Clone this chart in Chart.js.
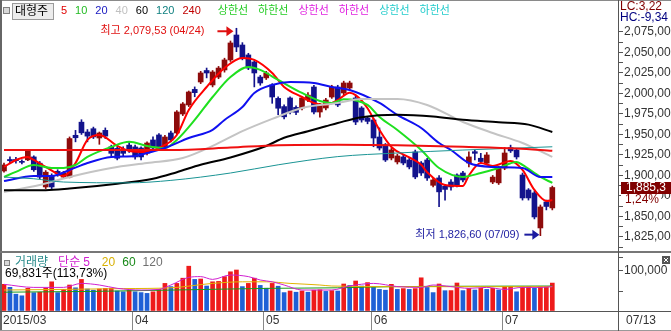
<!DOCTYPE html>
<html>
<head>
<meta charset="utf-8">
<script src="https://cdn.jsdelivr.net/npm/chart.js@4.4.1/dist/chart.umd.min.js"></script>
<style>
  html, body { margin: 0; padding: 0; background: #fff; }
  #wrap { position: relative; width: 671px; height: 331px; overflow: hidden; }
  #priceCv { position: absolute; left: 0; top: 0; }
  #volCv { position: absolute; left: 0; top: 252px; }
</style>
</head>
<body>
<div id="wrap">
  <canvas id="priceCv" width="671" height="252"></canvas>
  <canvas id="volCv" width="671" height="79"></canvas>
</div>
<script>
'use strict';

/* 1. DATOS */
const MONTH_STARTS = [0, 22, 44, 62, 84];
const MONTH_LABELS = ['2015/03', '04', '05', '06', '07'];
const LAST_DATE = '07/13';
const HIGH_DATE = '04/24';
const LOW_DATE  = '07/09';
const LC_TEXT = 'LC:3,22';
const HC_TEXT = 'HC:-9,34';

const OPEN = [
  1905.5, 1919.5, 1919.5, 1917, 1919, 1922.6, 1915, 1886, 1900, 1905,
  1898, 1898, 1949, 1965, 1953, 1957, 1945.7, 1955, 1935, 1933,
  1930, 1937, 1934.8, 1933.5, 1927.4, 1943.3, 1949.4, 1933.5, 1951.8, 1951.8,
  1975, 1986, 2005, 2014, 2028, 2010.4, 2020, 2028.7, 2040.9, 2071.3,
  2059.1, 2047, 2038.4, 2020, 2019, 2010.4, 1994, 1984, 1994.5, 1983,
  1982.3, 1992, 2007.9, 1977.4, 1982.3, 1995.7, 2007.9, 2000.6, 2006.7, 1994.5,
  1982.3, 1970, 1967.7, 1946.9, 1937.2, 1921.3, 1916.5, 1922.6, 1918.9, 1928.7,
  1915.2, 1918.9, 1888, 1897, 1887, 1892, 1900.6, 1903, 1915.2, 1929,
  1921, 1915, 1892, 1891, 1909, 1934, 1931, 1900.6, 1882.3, 1878.7,
  1836, 1867.7, 1860.4
];
const HIGH = [
  1915, 1922.6, 1922, 1919, 1931, 1924, 1917, 1906, 1902, 1907,
  1905, 1947, 1955, 1968, 1956, 1959, 1953, 1958, 1937, 1935,
  1935, 1940, 1937, 1935, 1941, 1947, 1951, 1949, 1954, 1979,
  1989, 2003, 2008, 2027, 2031, 2028, 2033, 2043, 2064, 2079.53,
  2062, 2049, 2040, 2022, 2027, 2012, 1996, 1986, 1996, 1985,
  1996, 2001, 2010, 1988, 1994, 2010, 2010, 2015, 2015, 1997,
  1984, 1972, 1970, 1958, 1939, 1933, 1926, 1925, 1921, 1931,
  1917, 1921, 1897, 1900, 1889, 1895, 1902, 1905, 1928.7, 1931,
  1927, 1928, 1900, 1911, 1934, 1937, 1933, 1903, 1884, 1881,
  1864, 1870, 1887
];
const LOW = [
  1904, 1915, 1915, 1914, 1918, 1905, 1896, 1884, 1884, 1899,
  1897, 1897, 1941, 1950, 1941, 1945, 1938, 1945, 1924, 1919,
  1924, 1928, 1920, 1919, 1925, 1931, 1931, 1931, 1941, 1950,
  1973, 1984, 1996, 2012, 2019, 2008, 2018, 2026, 2039, 2051,
  2041, 2029, 2008, 2010, 2017, 1988, 1974, 1969, 1975, 1974,
  1980, 1990, 1975, 1971, 1980, 1994, 1984, 1998, 2004, 1962,
  1965, 1963, 1935, 1931, 1917, 1919, 1914, 1913, 1908, 1896,
  1900, 1894, 1886, 1862, 1870, 1882, 1886, 1892, 1910.4, 1919,
  1915, 1913, 1890, 1889, 1907, 1928, 1920, 1870, 1870, 1847,
  1826.6, 1858, 1858
];
const CLOSE = [
  1912.8, 1918, 1918, 1916, 1930, 1907, 1898, 1904, 1886, 1902,
  1903, 1945, 1946, 1952, 1948, 1947, 1951.8, 1948, 1927, 1921,
  1927, 1931, 1922.6, 1922.6, 1939.6, 1933.5, 1933.5, 1946.9, 1943.3, 1977.4,
  1987.2, 2001.8, 2001, 2025, 2025, 2026.2, 2031, 2040.9, 2061.6, 2056.7,
  2043.3, 2031, 2025, 2012.8, 2025, 1995.7, 1982, 1971.5, 1977.4, 1977,
  1994.5, 1998, 1977.4, 1986, 1992, 2007.9, 1986, 2012.8, 2012.8, 1965.2,
  1967.7, 1966, 1945.7, 1933.5, 1918.9, 1931.1, 1923.8, 1915.2, 1910.4, 1898.2,
  1903, 1896.9, 1894.5, 1880, 1883, 1886, 1888, 1894.5, 1922.6, 1927,
  1917, 1925, 1898, 1909, 1927.4, 1930, 1922.6, 1872.6, 1872.6, 1849.4,
  1861.6, 1862.2, 1885.3
];
const VOLUME = [
  66700, 59200, 42000, 38000, 56700, 45800, 47000, 57000, 73000, 46000,
  54000, 65000, 58000, 79000, 55000, 52000, 55000, 56500, 57000, 50000,
  48000, 52000, 48000, 46000, 44000, 48000, 54000, 69000, 61000, 69000,
  82000, 112000, 79000, 80000, 62500, 73000, 74000, 86000, 98000, 102500,
  61000, 69000, 82000, 64000, 57000, 69000, 62000, 46000, 50000, 47000,
  50000, 47000, 52000, 53000, 49000, 51000, 50000, 67500, 64000, 75000,
  62500, 71000, 59000, 54000, 52000, 66700, 54000, 56000, 54000, 56000,
  83000, 59000, 46000, 67500, 50800, 51000, 70000, 51000, 56700, 52500,
  56700, 54000, 56700, 52500, 61000, 61500, 48000, 61000, 61500, 56700,
  61000, 61400, 69831
];

// medias móviles: [índice, valor]
const MA5 = [[0,1910.4],[2,1918.9],[4,1922.6],[5,1918.9],[7,1910.4],[9,1901.8],[10,1899.4],[12,1915.2],
  [14,1943.3],[16,1949.4],[19,1936],[21,1929.9],[24,1928.7],[26,1933.5],[29,1949.4],[31,1979.9],
  [34,2007.9],[37,2031.1],[40,2043.3],[42,2040.9],[45,2025],[47,2007.9],[50,1995.7],[52,1988.4],
  [54,1986],[56,1992],[58,2001],[59,1998],[61,1982],[63,1955.5],[65,1934.8],[68,1922],[70,1913],
  [71,1904],[74,1888.4],[77,1887.2],[78,1900],[80,1915.2],[82,1911.6],[85,1917.7],[87,1906.7],
  [89,1882.3],[91,1869],[92,1870]];
const MA10 = [[0,1898.2],[2,1904.3],[5,1912.8],[8,1909.1],[10,1909.1],[12,1912.8],[14,1922.6],[18,1934.8],
  [21,1941],[24,1936],[27,1933.5],[29,1943.3],[32,1967.7],[35,1995.7],[38,2020.1],[41,2032.3],
  [43,2028.7],[46,2016.5],[50,2000.6],[53,1990.9],[55,1988.4],[57,1993],[61,1986],[63,1971.3],
  [66,1955.5],[70,1931.1],[73,1909.1],[77,1898.2],[80,1903],[83,1909.1],[86,1916.5],[87,1912.8],
  [90,1898.2],[92,1890.9]];
const MA20 = [[0,1893.3],[5,1899.4],[8,1899.4],[11,1906.7],[14,1915.2],[18,1922.6],[22,1923.8],[24,1927.4],
  [27,1933.5],[31,1945.7],[35,1955.5],[37,1967.7],[40,1983.5],[42,2000.6],[45,2010.4],[48,2014],
  [52,2012.8],[55,2007.9],[58,2004.3],[63,1988.4],[66,1973.8],[70,1957.9],[73,1939.6],[75,1931.1],
  [78,1915.2],[82,1910.4],[87,1909.1],[90,1898.2],[92,1898.2]];
const MA40 = [[0,1879.9],[6,1888.4],[11,1898.2],[18,1909.1],[24,1915.2],[30,1921.3],[35,1936],[40,1954],
  [45,1969],[50,1982.3],[56,1988.4],[60,1993.3],[66,1993.3],[71,1986],[77,1965.2],[82,1951.8],
  [87,1939.6],[92,1922.6]];
const MA60 = [[0,1882],[7,1882],[11,1884],[19,1890],[25,1896],[29,1904],[33,1913],[38,1922],[44,1936],
  [47,1946],[51,1954],[54,1960],[56,1964],[60,1971],[66,1974],[72,1972],[77,1968],[83,1965],
  [88,1962],[92,1953]];
const MA120 = [[0,1898],[5,1896],[10,1892],[21,1891],[28,1894],[38,1903],[46,1913],[56,1923],[66,1927.4],
  [77,1931],[92,1935]];
const MA240 = [[0,1931],[28,1931],[38,1934],[46,1937],[56,1937.5],[66,1937],[77,1935],[86,1933],[92,1930]];

const VMA5 = [[0,66700],[5,59000],[10,59000],[13,69000],[16,65000],[19,56700],[23,52500],[26,54000],
  [28,65000],[31,84000],[33,86000],[35,79000],[38,90000],[41,86000],[43,77500],[45,73000],[47,65000],
  [50,52500],[53,52500],[55,52500],[58,62500],[62,69000],[66,61000],[70,59000],[72,65000],[75,61000],
  [78,56700],[81,59000],[84,54000],[87,59000],[90,59000],[92,61000]];
const VMA20 = [[0,52500],[10,54000],[20,56000],[28,58000],[35,69000],[40,73000],[44,73000],[48,69000],
  [53,65000],[55,62500],[66,60800],[92,60800]];
const VMA60 = [[0,47000],[15,49000],[27,52000],[45,56700],[56,58000],[65,60800],[80,62000],[92,62500]];

const PRICE_TICKS = [1825, 1850, 1875, 1900, 1925, 1950, 1975, 2000, 2025, 2050, 2075];
const VOL_TICKS = [0, 50000, 100000, 135000];
const VOL_LABEL_TICK = 100000;

/* 2. ESTILO */
const FONT = '"Liberation Sans", "Noto Sans CJK KR", sans-serif';
const UP_C = '#8e0b0b', DOWN_C = '#13138c';
const VOL_UP = '#ee1b1b', VOL_DOWN = '#1f60d6';
const X_MIN = -0.67, X_MAX = X_MIN + 618 / 5.96;
const Y_MAX = 2089.6, Y_MIN = 1809.1;
const VOL_MAX = 145000;

const MA_SERIES = [
  { name: '5',   data: MA5,   color: '#ff0000', legend: '#e00000', width: 2 },
  { name: '10',  data: MA10,  color: '#1fe01f', legend: '#22bb22', width: 2 },
  { name: '20',  data: MA20,  color: '#1010f0', legend: '#1818c0', width: 2 },
  { name: '40',  data: MA40,  color: '#c4c4c4', legend: '#c0c0c0', width: 2 },
  { name: '60',  data: MA60,  color: '#000000', legend: '#000000', width: 2 },
  { name: '120', data: MA120, color: '#1a9494', legend: '#108080', width: 1 },
  { name: '240', data: MA240, color: '#f01010', legend: '#c00000', width: 2 },
];
const BAND_NAMES  = ['상한선', '하한선', '상한선', '하한선', '상한선', '하한선'];
const BAND_COLORS = ['#22cc22', '#22cc22', '#e020e0', '#e020e0', '#22cccc', '#22cccc'];

function fmt(v, dec) {
  const [int, frac] = v.toFixed(dec).split('.');
  const s = int.replace(/\B(?=(\d{3})+(?!\d))/g, ',');
  return frac ? s + ',' + frac : s;
}

function txt(ctx, s, x, y, color, size, align) {
  ctx.font = (size || 11) + 'px ' + FONT;
  ctx.fillStyle = color;
  ctx.textAlign = align || 'left';
  ctx.textBaseline = 'middle';
  ctx.fillText(s, x, y);
  return ctx.measureText(s).width;
}

function arrow(ctx, x1, x2, y, color) {
  ctx.strokeStyle = color; ctx.fillStyle = color; ctx.lineWidth = 2;
  ctx.beginPath(); ctx.moveTo(x1, y); ctx.lineTo(x2 - 5, y); ctx.stroke();
  ctx.beginPath(); ctx.moveTo(x2, y); ctx.lineTo(x2 - 7, y - 5); ctx.lineTo(x2 - 7, y + 5); ctx.closePath(); ctx.fill();
}

const pts = arr => arr.map(([i, v]) => ({ x: i, y: v }));
const idx = OPEN.map((_, i) => i);

/* 3. GRÁFICO DE PRECIOS */
const priceOverlay = {
  id: 'priceOverlay',
  afterDraw(chart) {
    const { ctx, chartArea } = chart;
    const x = chart.scales.x, y = chart.scales.y;
    ctx.save();
    // marco
    ctx.fillStyle = '#8a8a8a'; ctx.fillRect(0, 0, 671, 1);
    ctx.fillStyle = '#666'; ctx.fillRect(0, 0, 2, 252);
    ctx.fillStyle = '#777'; ctx.fillRect(0, 251, 671, 1);
    ctx.fillStyle = '#555'; ctx.fillRect(Math.round(chartArea.right), 0, 1, 252);

    // leyenda
    ctx.fillStyle = '#d8d8d8'; ctx.fillRect(4, 8, 5, 5);
    ctx.strokeStyle = '#808080'; ctx.lineWidth = 1; ctx.strokeRect(3.5, 7.5, 6, 6);
    ctx.fillStyle = '#ececec'; ctx.fillRect(12, 3, 42, 16);
    ctx.strokeStyle = '#9a9a9a'; ctx.strokeRect(12.5, 3.5, 41, 16);
    txt(ctx, '대형주', 15, 11.5, '#000', 12);
    let lx = 61;
    MA_SERIES.forEach(s => { lx += txt(ctx, s.name, lx, 11, s.legend, 11) + 8; });
    lx += 9;
    BAND_NAMES.forEach((n, i) => { lx += txt(ctx, n, lx, 11, BAND_COLORS[i], 11) + 10; });

    // máximo / mínimo
    const hi = HIGH.indexOf(Math.max(...HIGH));
    const lo = LOW.indexOf(Math.min(...LOW));
    const hx = x.getPixelForValue(hi), hy = y.getPixelForValue(HIGH[hi]) + 3;
    txt(ctx, '최고 ' + fmt(HIGH[hi], 2) + ' (' + HIGH_DATE + ')', hx - 32, hy, '#e01010', 11, 'right');
    arrow(ctx, hx - 19, hx - 3, hy, '#e01010');
    const bx = x.getPixelForValue(lo), by = y.getPixelForValue(LOW[lo]) - 1;
    txt(ctx, '최저 ' + fmt(LOW[lo], 2) + ' (' + LOW_DATE + ')', bx - 21, by, '#1c1ca0', 11, 'right');
    arrow(ctx, bx - 16, bx - 1, by, '#1c1ca0');

    // LC / HC
    const ax = Math.round(chartArea.right) + 1;
    ctx.fillStyle = '#fff'; ctx.fillRect(ax, 1, 671 - ax, 22);
    txt(ctx, LC_TEXT, ax + 1, 7, '#800000', 12);
    txt(ctx, HC_TEXT, ax + 1, 18, '#000080', 12);

    // último precio
    const n = CLOSE.length - 1;
    const py = Math.round(y.getPixelForValue(CLOSE[n]));
    ctx.fillStyle = '#800000'; ctx.fillRect(ax + 2, py - 6, 671 - ax - 2, 12);
    txt(ctx, fmt(CLOSE[n], 1), ax + 7, py, '#fff', 12);
    const pct = fmt((CLOSE[n] / CLOSE[n - 1] - 1) * 100, 2) + '%';
    ctx.font = '12px ' + FONT;
    const pw = ctx.measureText(pct).width;
    ctx.fillStyle = '#fff'; ctx.fillRect(ax + 2, py + 6, pw + 6, 12);
    txt(ctx, pct, ax + 6, py + 12, '#800000', 12);
    ctx.restore();
  }
};

const lineSets = MA_SERIES.slice().reverse().map((s, k) => ({
  type: 'line', data: pts(s.data), borderColor: s.color, borderWidth: s.width,
  pointRadius: 0, cubicInterpolationMode: 'monotone', order: 1 + k
}));

new Chart(document.getElementById('priceCv'), {
  type: 'bar',
  data: {
    datasets: [
      ...lineSets,
      {
        data: idx.map(i => ({ x: i, y: [LOW[i], HIGH[i]] })),
        backgroundColor: idx.map(i => CLOSE[i] >= OPEN[i] ? UP_C : DOWN_C),
        barThickness: 1, grouped: false, order: 21
      },
      {
        data: idx.map(i => ({ x: i, y: [OPEN[i], CLOSE[i]] })),
        backgroundColor: idx.map(i => CLOSE[i] >= OPEN[i] ? UP_C : DOWN_C),
        barThickness: 5, minBarLength: 1, grouped: false, order: 20
      }
    ]
  },
  options: {
    responsive: false, animation: false, devicePixelRatio: 1,
    layout: { padding: { left: 0, right: 0, top: 20, bottom: 2 } },
    plugins: { legend: { display: false }, tooltip: { enabled: false } },
    scales: {
      x: { type: 'linear', min: X_MIN, max: X_MAX, display: false, offset: false },
      y: {
        position: 'right', min: Y_MIN, max: Y_MAX,
        afterBuildTicks(s) {
          const t = [];
          PRICE_TICKS.forEach(v => { t.push({ value: v - 12.5 }, { value: v }); });
          s.ticks = t;
        },
        afterFit(s) { s.width = 53; s.paddingTop = 0; s.paddingBottom = 0; },
        ticks: {
          autoSkip: false, padding: 1, color: '#333',
          font: { size: 12, family: FONT },
          callback: v => PRICE_TICKS.includes(v) ? fmt(v, 2) : ''
        },
        grid: { drawOnChartArea: false, drawTicks: true, tickLength: 5, color: '#555', tickColor: '#555' },
        border: { display: true, color: '#555' }
      }
    }
  },
  plugins: [priceOverlay]
});

/* 4. GRÁFICO DE VOLUMEN */
const volOverlay = {
  id: 'volOverlay',
  afterDraw(chart) {
    const { ctx, chartArea } = chart;
    const x = chart.scales.x;
    const n = VOLUME.length - 1;
    ctx.save();
    ctx.fillStyle = '#666'; ctx.fillRect(0, 0, 2, 79);
    ctx.fillStyle = '#777'; ctx.fillRect(0, 0, 671, 1);
    ctx.fillStyle = '#555'; ctx.fillRect(0, 59, 671, 1);
    ctx.fillStyle = '#999'; ctx.fillRect(0, 78, 671, 1);
    ctx.fillStyle = '#555'; ctx.fillRect(Math.round(chartArea.right), 0, 1, 79);

    // leyenda
    ctx.fillStyle = '#d8d8d8'; ctx.fillRect(5, 9, 4, 4);
    ctx.strokeStyle = '#808080'; ctx.lineWidth = 1; ctx.strokeRect(4.5, 8.5, 5, 5);
    let lx = 15;
    lx += txt(ctx, '거래량', lx, 11, '#2a8c8c', 12) + 10;
    lx += txt(ctx, '단순', lx, 11, '#d020d0', 12) + 3;
    lx += txt(ctx, '5', lx, 11, '#d020d0', 12) + 12;
    lx += txt(ctx, '20', lx, 11, '#d8b000', 12) + 7;
    lx += txt(ctx, '60', lx, 11, '#1a8a1a', 12) + 7;
    txt(ctx, '120', lx, 11, '#707070', 12);
    txt(ctx, fmt(VOLUME[n], 0) + '주(' + fmt(VOLUME[n] / VOLUME[n - 1] * 100, 2) + '%)', 5, 22, '#000', 12);

    // botón cerrar
    ctx.fillStyle = '#555'; ctx.fillRect(662, 4, 8, 8);
    ctx.strokeStyle = '#fff'; ctx.beginPath();
    ctx.moveTo(664, 6); ctx.lineTo(668, 10); ctx.moveTo(668, 6); ctx.lineTo(664, 10); ctx.stroke();

    // eje de fechas
    ctx.fillStyle = '#888';
    MONTH_STARTS.forEach((m, k) => {
      const px = m === 0 ? 0 : Math.round(x.getPixelForValue(m - 0.5));
      if (m !== 0) { ctx.fillStyle = '#888'; ctx.fillRect(px, 60, 1, 18); }
      txt(ctx, MONTH_LABELS[k], px + 3, 69, '#333', 12);
    });
    txt(ctx, LAST_DATE, Math.round(chartArea.right) + 8, 69, '#333', 12);
    ctx.restore();
  }
};

const volLines = [[VMA60, '#1a9a1a'], [VMA20, '#e0b400'], [VMA5, '#d020d0']].map(([d, c], k) => ({
  type: 'line', data: pts(d), borderColor: c, borderWidth: 1, pointRadius: 0,
  cubicInterpolationMode: 'monotone', order: 3 - k
}));

new Chart(document.getElementById('volCv'), {
  type: 'bar',
  data: {
    datasets: [
      ...volLines,
      {
        data: idx.map(i => ({ x: i, y: VOLUME[i] })),
        backgroundColor: idx.map(i => i === 0 || VOLUME[i] > VOLUME[i - 1] ? VOL_UP : VOL_DOWN),
        barThickness: 4, grouped: false, order: 10
      }
    ]
  },
  options: {
    responsive: false, animation: false, devicePixelRatio: 1,
    layout: { padding: { left: 0, right: 0, top: 1, bottom: 20 } },
    plugins: { legend: { display: false }, tooltip: { enabled: false } },
    scales: {
      x: { type: 'linear', min: X_MIN, max: X_MAX, display: false, offset: false },
      y: {
        position: 'right', min: 0, max: VOL_MAX,
        afterBuildTicks(s) { s.ticks = VOL_TICKS.map(v => ({ value: v })); },
        afterFit(s) { s.width = 53; s.paddingTop = 0; s.paddingBottom = 0; },
        ticks: {
          autoSkip: false, padding: 1, color: '#333',
          font: { size: 12, family: FONT },
          callback: v => v === VOL_LABEL_TICK ? fmt(v, 0) : ''
        },
        grid: { drawOnChartArea: false, drawTicks: true, tickLength: 5, color: '#555', tickColor: '#555' },
        border: { display: true, color: '#555' }
      }
    }
  },
  plugins: [volOverlay]
});
</script>
</body>
</html>
